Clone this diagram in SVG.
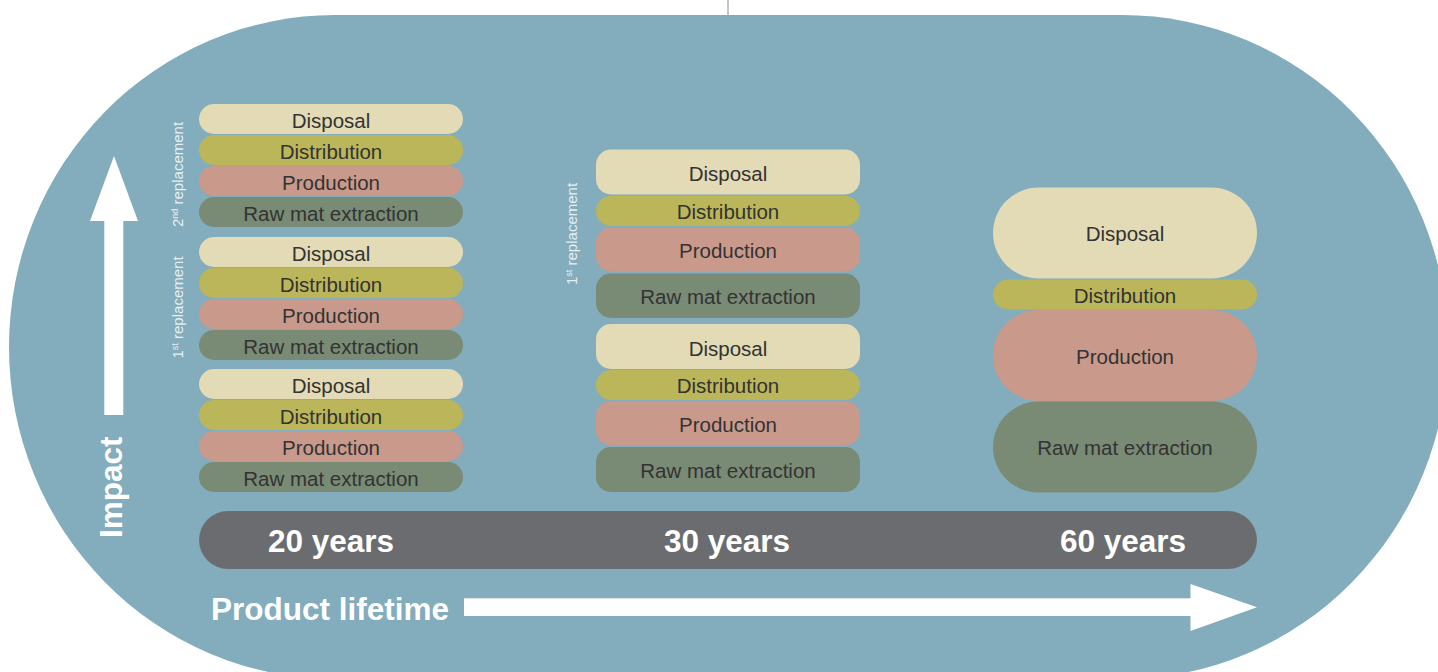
<svg xmlns="http://www.w3.org/2000/svg" width="1438" height="672" viewBox="0 0 1438 672">
<style>
.bg{fill:#83acbc}
.disp{fill:#e3dab6}
.dist{fill:#bbb65a}
.prod{fill:#c99a8b}
.raw{fill:#798a75}
.lbl{font-family:"Liberation Sans",Arial,sans-serif;font-size:20.5px;fill:#333;text-anchor:middle}
.yr{font-family:"Liberation Sans",Arial,sans-serif;font-size:31.5px;font-weight:bold;fill:#fff;text-anchor:middle}
.axis{font-family:"Liberation Sans",Arial,sans-serif;font-size:31.5px;font-weight:bold;fill:#fff}
.rep{font-family:"Liberation Sans",Arial,sans-serif;font-size:15px;fill:#e6eff2}
.arrow{fill:#fff}
</style>
<rect class="bg" x="9" y="15" width="1439" height="664" rx="326" ry="332"/>
<line x1="728" y1="0" x2="728" y2="15" stroke="#8a8a8a" stroke-width="1"/>

<g id="col20">
  <g id="c20-g3">
    <rect class="disp" x="199" y="104" width="264" height="30" rx="15"/><text class="lbl" x="331" y="127.7">Disposal</text>
    <rect class="dist" x="199" y="135" width="264" height="30" rx="15"/><text class="lbl" x="331" y="158.7">Distribution</text>
    <rect class="prod" x="199" y="166" width="264" height="30" rx="15"/><text class="lbl" x="331" y="189.7">Production</text>
    <rect class="raw" x="199" y="197" width="264" height="30" rx="15"/><text class="lbl" x="331" y="220.7">Raw mat extraction</text>
  </g>
  <g id="c20-g2">
    <rect class="disp" x="199" y="237" width="264" height="30" rx="15"/><text class="lbl" x="331" y="260.7">Disposal</text>
    <rect class="dist" x="199" y="268" width="264" height="30" rx="15"/><text class="lbl" x="331" y="291.7">Distribution</text>
    <rect class="prod" x="199" y="299" width="264" height="30" rx="15"/><text class="lbl" x="331" y="322.7">Production</text>
    <rect class="raw" x="199" y="330" width="264" height="30" rx="15"/><text class="lbl" x="331" y="353.7">Raw mat extraction</text>
  </g>
  <g id="c20-g1">
    <rect class="disp" x="199" y="369" width="264" height="30" rx="15"/><text class="lbl" x="331" y="392.7">Disposal</text>
    <rect class="dist" x="199" y="400" width="264" height="30" rx="15"/><text class="lbl" x="331" y="423.7">Distribution</text>
    <rect class="prod" x="199" y="431" width="264" height="30" rx="15"/><text class="lbl" x="331" y="454.7">Production</text>
    <rect class="raw" x="199" y="462" width="264" height="30" rx="15"/><text class="lbl" x="331" y="485.7">Raw mat extraction</text>
  </g>
  <text class="rep" transform="translate(183.3,227) rotate(-90)">2<tspan font-size="9" dy="-5">nd</tspan><tspan dy="5"> replacement</tspan></text>
  <text class="rep" transform="translate(183.3,358.5) rotate(-90)">1<tspan font-size="9" dy="-5">st</tspan><tspan dy="5"> replacement</tspan></text>
</g>

<g id="col30">
  <g id="c30-g2">
    <rect class="disp" x="596" y="149.5" width="264" height="45" rx="15"/><text class="lbl" x="728" y="181">Disposal</text>
    <rect class="dist" x="596" y="196" width="264" height="30" rx="15"/><text class="lbl" x="728" y="219.3">Distribution</text>
    <rect class="prod" x="596" y="227.5" width="264" height="44" rx="15"/><text class="lbl" x="728" y="258">Production</text>
    <rect class="raw" x="596" y="273.5" width="264" height="44.5" rx="15"/><text class="lbl" x="728" y="304.3">Raw mat extraction</text>
  </g>
  <g id="c30-g1">
    <rect class="disp" x="596" y="324" width="264" height="45" rx="15"/><text class="lbl" x="728" y="355.5">Disposal</text>
    <rect class="dist" x="596" y="370" width="264" height="30" rx="15"/><text class="lbl" x="728" y="393.3">Distribution</text>
    <rect class="prod" x="596" y="401" width="264" height="44.5" rx="15"/><text class="lbl" x="728" y="431.8">Production</text>
    <rect class="raw" x="596" y="447" width="264" height="45" rx="15"/><text class="lbl" x="728" y="478">Raw mat extraction</text>
  </g>
  <text class="rep" transform="translate(577,285) rotate(-90)">1<tspan font-size="9" dy="-5">st</tspan><tspan dy="5"> replacement</tspan></text>
</g>

<g id="col60">
  <rect class="disp" x="993" y="187.5" width="264" height="91" rx="45.5"/><text class="lbl" x="1125" y="241.2">Disposal</text>
  <rect class="dist" x="993" y="279.5" width="264" height="30" rx="15"/><text class="lbl" x="1125" y="302.5">Distribution</text>
  <rect class="prod" x="993" y="310" width="264" height="91" rx="45.5"/><text class="lbl" x="1125" y="363.7">Production</text>
  <rect class="raw" x="993" y="401.5" width="264" height="91" rx="45.5"/><text class="lbl" x="1125" y="455.2">Raw mat extraction</text>
</g>

<g id="timeline">
  <rect x="199" y="511" width="1058" height="58" rx="29" fill="#6b6c70"/>
  <text class="yr" x="331" y="552">20 years</text>
  <text class="yr" x="727" y="552">30 years</text>
  <text class="yr" x="1123" y="552">60 years</text>
</g>

<g id="connectors">
  <g id="impact-arrow">
    <rect class="arrow" x="104.3" y="220" width="19" height="195"/>
    <polygon class="arrow" points="90,221 138,221 114,156"/>
  </g>
  <g id="lifetime-arrow">
    <rect class="arrow" x="464" y="598.3" width="727" height="17.7"/>
    <polygon class="arrow" points="1190.5,584 1190.5,631 1257,607.3"/>
  </g>
</g>

<g id="axis-labels">
  <text class="axis" transform="translate(122,538) rotate(-90)">Impact</text>
  <text class="axis" x="211" y="620">Product lifetime</text>
</g>
</svg>
